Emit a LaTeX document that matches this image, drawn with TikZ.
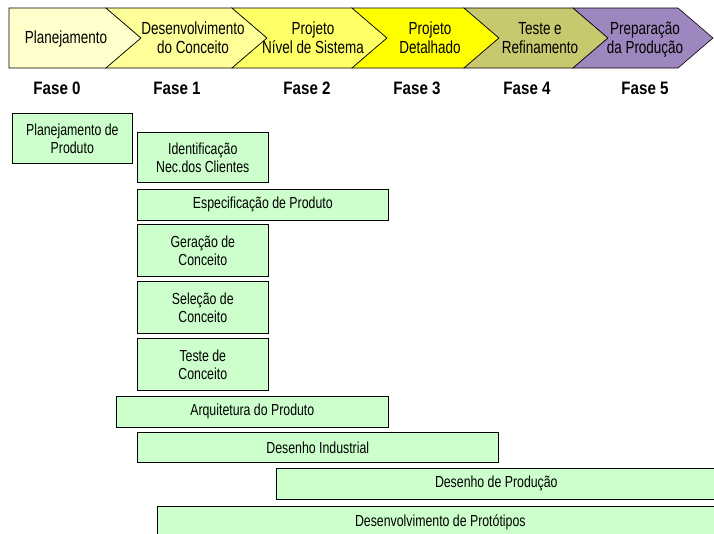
\documentclass[tikz,border=0pt]{standalone}
\usepackage{fontspec}
\setmainfont{Liberation Sans}[FakeStretch=0.84]
\newfontfamily\narrowsans{Liberation Sans}[FakeStretch=0.77]
\usetikzlibrary{positioning,shadows}
\definecolor{phasezero}{RGB}{255,255,204}
\definecolor{phaseone}{RGB}{255,255,153}
\definecolor{phasetwo}{RGB}{255,255,102}
\definecolor{phasethree}{RGB}{255,255,0}
\definecolor{phasefour}{RGB}{200,200,110}
\definecolor{phasefive}{RGB}{158,134,190}
\definecolor{taskgreen}{RGB}{204,255,204}
\newcommand{\chevronbox}[3]{\filldraw[fill=#1,draw=black,line width=0.6pt] (#2,8) -- (#3,8) -- ++(35,30) -- (#3,68) -- (#2,68) -- ++(35,-30) -- cycle;}
\newcommand{\fasetag}[3]{\node[fasetag] (#1) at (#2,88) {Fase #3};}
\tikzset{
  phasetext/.style={font=\narrowsans\fontsize{17.5}{19}\selectfont,align=center,inner sep=0pt},
  fasetag/.style={font=\fontsize{18}{20}\selectfont\bfseries,inner sep=0pt},
  task/.style={draw=black,line width=0.6pt,fill=taskgreen,anchor=north west,inner sep=0pt,align=center,
    font=\narrowsans\fontsize{16}{18}\selectfont,
    drop shadow={shadow xshift=1pt,shadow yshift=-1pt,fill=black!70,opacity=1}}
}

\begin{document}
\begin{tikzpicture}[x=1pt,y=-1pt]
  \useasboundingbox (0,0) rectangle (714,533);
  % fases
  \filldraw[fill=phasezero,draw=black,line width=0.6pt] (9,8) -- (106,8) -- (141,38) -- (106,68) -- (9,68) -- cycle;
  \chevronbox{phaseone}{106}{232}
  \chevronbox{phasetwo}{232}{352}
  \chevronbox{phasethree}{352}{464}
  \chevronbox{phasefour}{464}{573}
  \chevronbox{phasefive}{573}{678}
  \node[phasetext] (plan) at (66,39) {Planejamento};
  \node[phasetext] (concept) at (193,38) {Desenvolvimento\\do Conceito};
  \node[phasetext] (sistema) at (313,38) {Projeto\\Nível de Sistema};
  \node[phasetext] (detalhe) at (430,38) {Projeto\\Detalhado};
  \node[phasetext] (refino) at (540,38) {Teste e\\Refinamento};
  \node[phasetext] (preparo) at (645,40) {Preparação\\da Produção};
  \fasetag{fase0}{57}{0} \fasetag{fase1}{177}{1} \fasetag{fase2}{307}{2}
  \fasetag{fase3}{417}{3} \fasetag{fase4}{527}{4} \fasetag{fase5}{645}{5}
  % atividades
  \node[task,minimum width=120pt,minimum height=50pt] (planProd) at (12,113) {Planejamento de\\Produto};
  \node[task,minimum width=131pt,minimum height=50pt] (idNec) at (137,132) {Identificação\\Nec.dos Clientes};
  \node[task,minimum width=251pt,minimum height=31pt] (especif) at (137,189) {Especificação de Produto};
  \node[task,minimum width=131pt,minimum height=52pt] (geracao) at (137,224) {Geração de\\Conceito};
  \node[task,minimum width=131pt,minimum height=52pt] (selecao) at (137,281) {Seleção de\\Conceito};
  \node[task,minimum width=131pt,minimum height=52pt] (teste) at (137,338) {Teste de\\Conceito};
  \node[task,minimum width=272pt,minimum height=31pt] (arquit) at (116,396) {Arquitetura do Produto};
  \node[task,minimum width=361pt,minimum height=30pt] (desInd) at (137,432) {Desenho Industrial};
  \node[task,minimum width=440pt,minimum height=31pt] (desProd) at (276,468) {Desenho de Produção};
  \node[task,minimum width=566pt,minimum height=31pt] (prototipos) at (157,506) {Desenvolvimento de Protótipos};
\end{tikzpicture}
\end{document}
